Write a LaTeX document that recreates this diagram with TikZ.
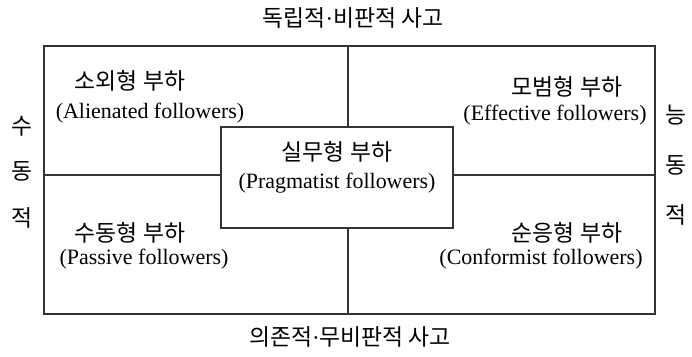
\documentclass[tikz,border=0pt]{standalone}
\usepackage{fontspec}
\setmainfont{Liberation Serif}
\newfontfamily\kor{Noto Sans CJK KR}
\newfontfamily\latn{Liberation Serif}
\usepackage{tikz}

\begin{document}
\begin{tikzpicture}[x=0.02cm,y=-0.02cm,
  kr/.style={font=\kor\fontsize{13}{15}\selectfont,inner sep=0pt},
  en/.style={font=\fontsize{12.5}{15}\selectfont,inner sep=0pt},
  frame/.style={black!80,line width=0.9pt}]
\useasboundingbox (0,0) rectangle (692,356);
%\fill[gray!10] (44,46) rectangle (655,314);
\draw[frame] (44,46) rectangle (655,314);
\draw[frame] (348,46) -- (348,314);
\draw[frame] (44,175) -- (655,175);
\filldraw[frame,fill=white] (221,127) rectangle (453,228);
% axis labels
\node[kr] (top) at (353,18) {독립적{\latn\char"00B7}비판적 사고};
\node[kr] (bot) at (350,337) {의존적{\latn\char"00B7}무비판적 사고};
\node[kr] (ls) at (22,126) {수};
\node[kr] (ld) at (22,171) {동};
\node[kr] (lj) at (22,218) {적};
\node[kr] (rn) at (676,115) {능};
\node[kr] (rd) at (676,165) {동};
\node[kr] (rj) at (676,215) {적};
% quadrants
\node[kr] (alien) at (130,81) {소외형 부하};
\node[en] (alienE) at (150,113) {(Alienated followers)};
\node[kr] (effec) at (567,87) {모범형 부하};
\node[en] (effecE) at (555,115) {(Effective followers)};
\node[kr] (pragm) at (337,152) {실무형 부하};
\node[en] (pragmE) at (337,183) {(Pragmatist followers)};
\node[kr] (passv) at (130,233) {수동형 부하};
\node[en] (passvE) at (144,259) {(Passive followers)};
\node[kr] (confm) at (567,233) {순응형 부하};
\node[en] (confmE) at (541,259) {(Conformist followers)};
\end{tikzpicture}
\end{document}
